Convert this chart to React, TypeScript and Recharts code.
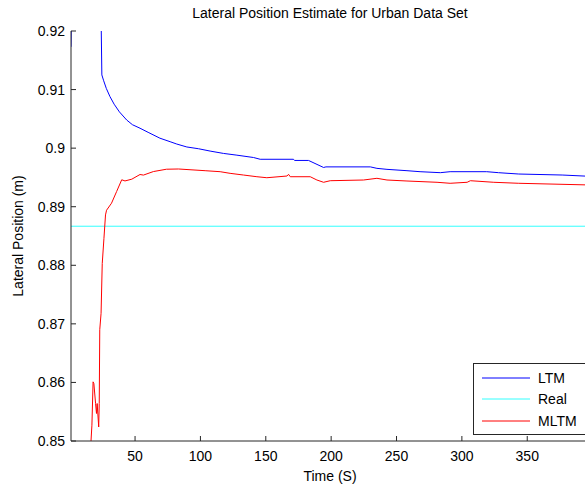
import React from "react";
import { LineChart, Line, XAxis, YAxis } from "recharts";

// LTM estimate (time in s, lateral position in m)
const ltmTime = [1, 2, 23, 24, 24.6, 26, 28, 30.8, 34, 38, 43.6, 48, 53.8, 60, 69, 76.8, 81.9, 89.6, 98.5, 107.4, 117.6, 127.9, 140.6, 145.7, 171.2, 172, 182.7, 194.2, 196, 230, 235, 242.7, 258, 268, 283.5, 291, 319, 328, 343.5, 376.7, 398];
const ltmValue = [0.9173, 0.935, 0.93, 0.9225, 0.9125, 0.9115, 0.9102, 0.9088, 0.9075, 0.9062, 0.9048, 0.904, 0.9034, 0.9027, 0.9017, 0.9011, 0.9007, 0.9002, 0.8999, 0.8995, 0.8991, 0.8988, 0.8984, 0.8981, 0.8981, 0.8979, 0.8979, 0.8967, 0.8968, 0.8968, 0.89655, 0.89638, 0.89615, 0.89598, 0.89581, 0.89598, 0.89598, 0.89581, 0.89558, 0.89541, 0.89519];

// MLTM estimate
const mltmTime = [15, 16.3, 17, 17.9, 18.5, 19.8, 20.5, 21, 22.2, 22.6, 23, 24, 24.9, 26.2, 27.4, 28.2, 32, 35.9, 39.8, 42.3, 47.5, 53.8, 56.4, 64, 74, 83.2, 103.6, 115.1, 122.7, 132.9, 143.2, 150.8, 166.2, 167.4, 168.7, 184, 189.1, 194.2, 199.3, 224.8, 235, 242.7, 258, 281, 291, 304, 306.5, 324.4, 343.5, 398];
const mltmValue = [0.845, 0.85, 0.8527, 0.8601, 0.8598, 0.8564, 0.8547, 0.8564, 0.8524, 0.8564, 0.869, 0.8718, 0.8803, 0.8846, 0.8886, 0.8894, 0.8906, 0.8926, 0.8946, 0.8944, 0.8947, 0.8955, 0.8954, 0.896, 0.8964, 0.89644, 0.89615, 0.89598, 0.8957, 0.89541, 0.89512, 0.89495, 0.89524, 0.89553, 0.89512, 0.89512, 0.89456, 0.89417, 0.89444, 0.89456, 0.89485, 0.89456, 0.89439, 0.89417, 0.894, 0.89417, 0.89444, 0.89417, 0.894, 0.89371];

// true lateral position
const realTime = [1, 398];
const realValue = [0.88667, 0.88667];

const xTicks = [50, 100, 150, 200, 250, 300, 350];
const yTicks = [0.85, 0.86, 0.87, 0.88, 0.89, 0.9, 0.91, 0.92];

const series = [
  { name: "LTM", color: "#0000ff", time: ltmTime, value: ltmValue },
  { name: "Real", color: "#33ffff", time: realTime, value: realValue },
  { name: "MLTM", color: "#ff0000", time: mltmTime, value: mltmValue },
];

const FONT = "'Liberation Sans', Arial, sans-serif";
const AXIS = "#262626";
const tickStyle = { fontSize: 14, fill: "#000", fontFamily: FONT };

// legend drawn as a box over the lower right corner, like the original figure
function LegendBox() {
  return (
    <div
      style={{
        position: "absolute",
        left: 473,
        top: 363,
        border: `1px solid ${AXIS}`,
        background: "#fff",
        width: 130,
        height: 72,
        boxSizing: "border-box",
        padding: "3px 0 0 8px",
        fontFamily: FONT,
        fontSize: 14,
      }}
    >
      {series.map((s) => (
        <div key={s.name} style={{ display: "flex", alignItems: "center", height: 21.5 }}>
          <svg width={50} height={4} style={{ marginRight: 6 }}>
            <line x1={0} y1={2} x2={48} y2={2} stroke={s.color} strokeWidth={1} />
          </svg>
          <span>{s.name}</span>
        </div>
      ))}
    </div>
  );
}

export default function App() {
  return (
    <div
      style={{
        position: "fixed",
        left: 0,
        top: 0,
        width: 585,
        height: 488,
        overflow: "hidden",
        background: "#fff",
        fontFamily: FONT,
      }}
    >
      <div
        style={{
          position: "absolute",
          left: 0,
          width: 660,
          top: 5,
          textAlign: "center",
          fontSize: 14,
          lineHeight: "16px",
        }}
      >
        Lateral Position Estimate for Urban Data Set
      </div>
      <LineChart width={600} height={488} margin={{ top: 31, right: 10, bottom: 0, left: 0 }}>
        <XAxis
          xAxisId={0}
          type="number"
          dataKey="t"
          domain={[1, 398]}
          ticks={xTicks}
          allowDataOverflow
          height={47}
          tick={tickStyle}
          tickSize={-5}
          tickMargin={15}
          stroke={AXIS}
        />
        <XAxis
          xAxisId="top"
          orientation="top"
          type="number"
          domain={[1, 398]}
          ticks={xTicks}
          height={0}
          tickFormatter={() => ""}
          tickSize={-5}
          stroke={AXIS}
        />
        <YAxis
          type="number"
          domain={[0.85, 0.92]}
          ticks={yTicks}
          allowDataOverflow
          width={71}
          tick={tickStyle}
          tickSize={-5}
          tickMargin={11}
          tickFormatter={(v: number) => String(+v.toFixed(2))}
          stroke={AXIS}
          label={{
            value: "Lateral Position (m)",
            angle: -90,
            position: "insideLeft",
            offset: 18,
            style: { textAnchor: "middle", fontSize: 14, fill: "#000", fontFamily: FONT },
          }}
        />
        {series.map((s) => (
          <Line
            key={s.name}
            name={s.name}
            data={s.time.map((t, i) => ({ t, v: s.value[i] }))}
            dataKey="v"
            type="linear"
            stroke={s.color}
            strokeWidth={1}
            dot={false}
            isAnimationActive={false}
          />
        ))}
      </LineChart>
      <LegendBox />
      <div
        style={{
          position: "absolute",
          left: 0,
          width: 660,
          top: 468,
          textAlign: "center",
          fontSize: 14,
          lineHeight: "16px",
        }}
      >
        Time (S)
      </div>
    </div>
  );
}
